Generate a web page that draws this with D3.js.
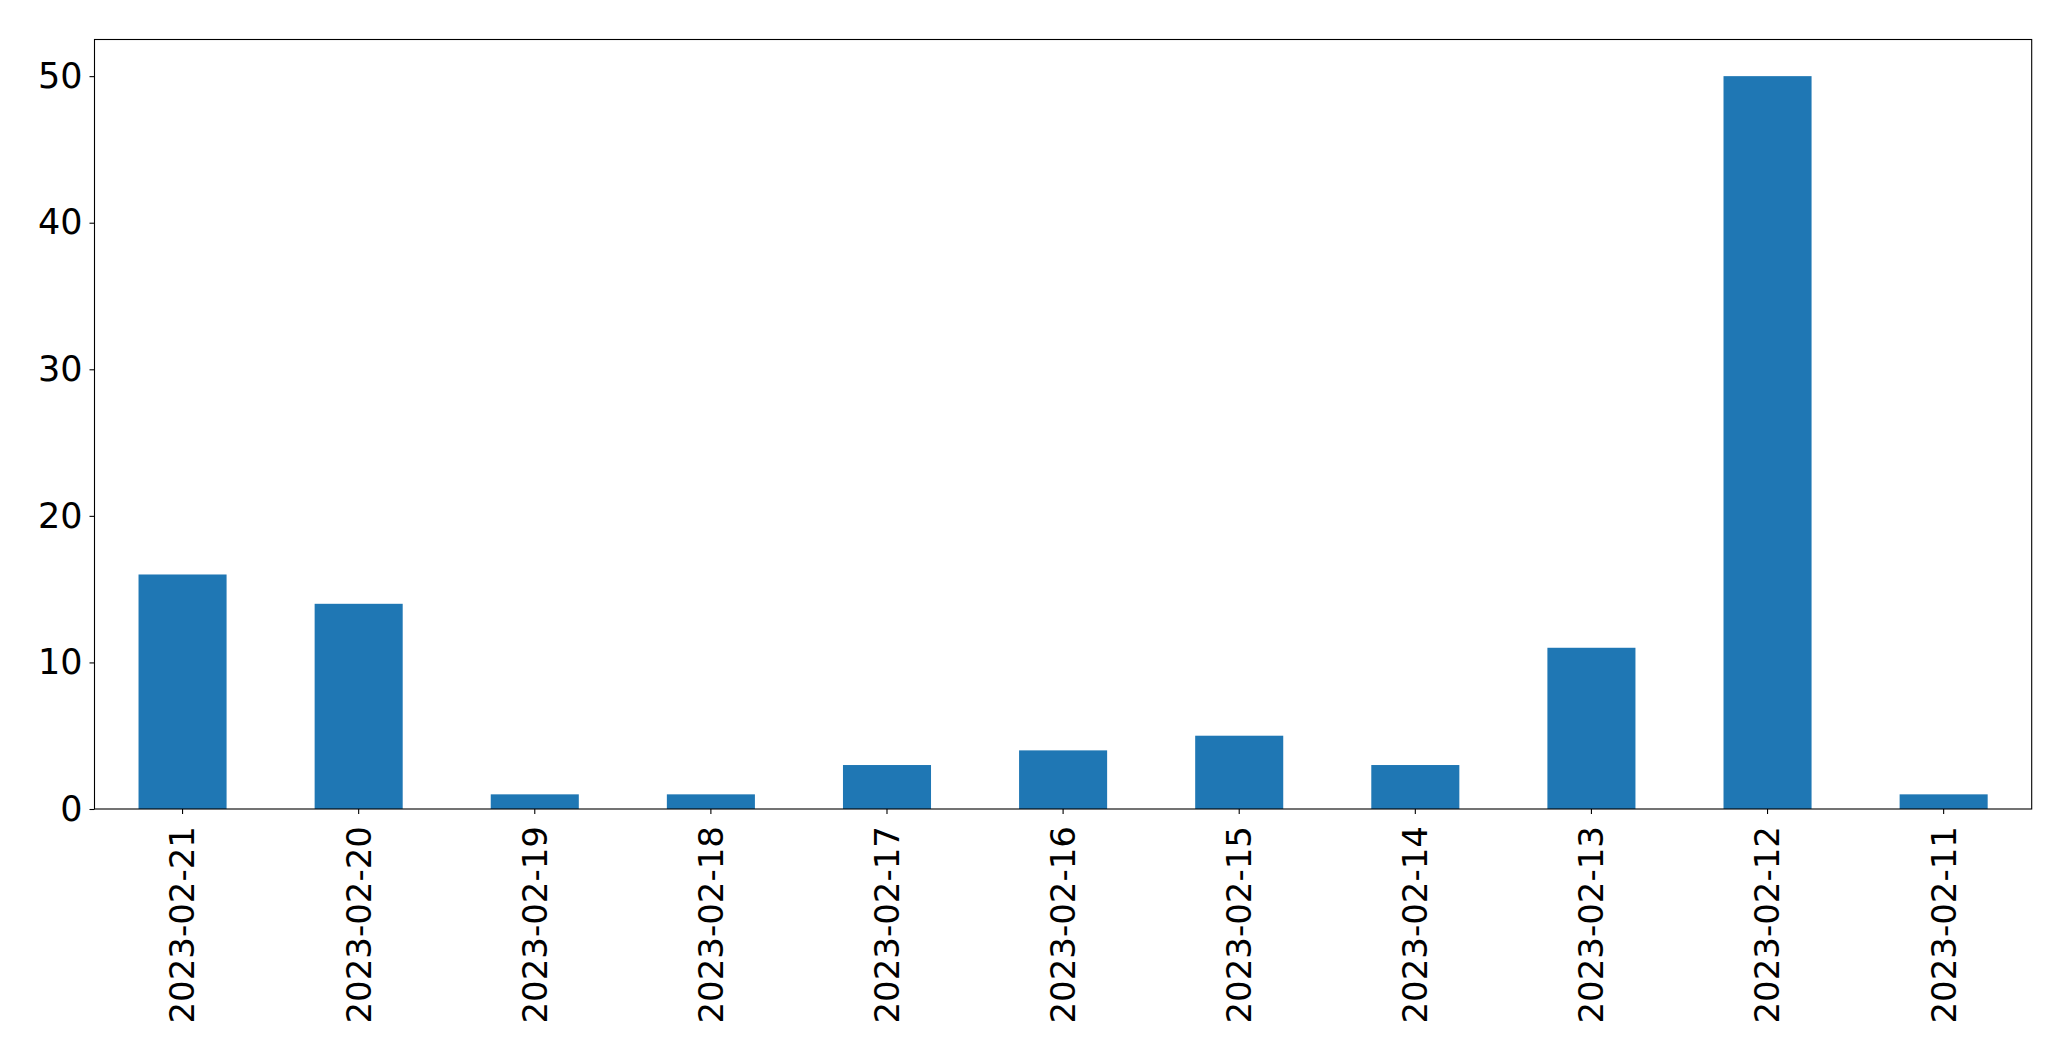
<!DOCTYPE html>
<html>
<head>
<meta charset="utf-8">
<script src="https://cdn.jsdelivr.net/npm/d3@7"></script>
<style>
    body { margin: 0; background: #fff; }
    svg text { font-family: "DejaVu Sans", sans-serif; fill: #000; }
</style>
</head>
<body>
<div id="chart"></div>
<script>
// daily counts, newest first (as in the source plot)
var dates = ["2023-02-21", "2023-02-20", "2023-02-19", "2023-02-18", "2023-02-17",
             "2023-02-16", "2023-02-15", "2023-02-14", "2023-02-13", "2023-02-12", "2023-02-11"];
var counts = [16, 14, 1, 1, 3, 4, 5, 3, 11, 50, 1];
var yTicks = [0, 10, 20, 30, 40, 50];

var width = 2071, height = 1061;
var margin = {top: 39.5, right: 39.3, bottom: 252, left: 94.5};
var innerW = width - margin.left - margin.right;
var innerH = height - margin.top - margin.bottom;

var svg = d3.select("#chart")
    .append("svg")
    .attr("width", width)
    .attr("height", height);

var g = svg.append("g")
    .attr("transform", "translate(" + margin.left + "," + margin.top + ")");

// matplotlib bar layout: width 0.5, xlim -0.5..n-0.5
var x = d3.scaleBand()
    .domain(dates)
    .range([0, innerW])
    .paddingInner(0.5)
    .paddingOuter(0.25);

var y = d3.scaleLinear()
    .domain([0, 52.5])
    .range([innerH, 0]);

// bars
g.selectAll(".bar")
    .data(counts)
    .enter().append("rect")
    .attr("class", "bar")
    .attr("x", function (d, i) { return x(dates[i]); })
    .attr("y", function (d) { return y(d); })
    .attr("width", x.bandwidth())
    .attr("height", function (d) { return innerH - y(d); })
    .style("fill", "#1f77b4");

// y axis
var yAxis = g.append("g")
    .call(d3.axisLeft(y).tickValues(yTicks).tickSize(5).tickPadding(7).tickFormat(d3.format("d")));
yAxis.select(".domain").remove();
yAxis.selectAll("text").style("font-size", "35px");
yAxis.selectAll("line").attr("stroke", "#000").attr("stroke-width", 1.1);

// x axis
var xAxis = g.append("g")
    .attr("transform", "translate(0," + innerH + ")")
    .call(d3.axisBottom(x).tickSize(5).tickPadding(0));
xAxis.select(".domain").remove();
xAxis.selectAll("line").attr("stroke", "#000").attr("stroke-width", 1.1);
xAxis.selectAll("text")
    .style("font-size", "34px")
    .attr("text-anchor", "end")
    .attr("dy", "0.35em")
    .attr("x", 0)
    .attr("y", 0)
    .attr("transform", "translate(0,17) rotate(-90)");

// frame
g.append("rect")
    .attr("x", 0)
    .attr("y", 0)
    .attr("width", innerW)
    .attr("height", innerH)
    .attr("fill", "none")
    .attr("stroke", "#000")
    .attr("stroke-width", 1.1);
</script>
</body>
</html>
